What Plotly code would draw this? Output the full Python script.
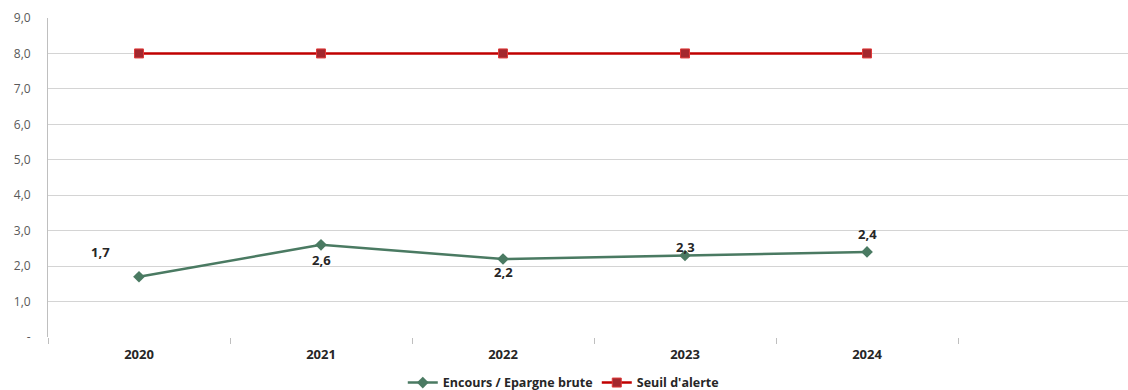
import plotly.graph_objects as go

# Data
years = ["2020", "2021", "2022", "2023", "2024"]
ratio = [1.7, 2.6, 2.2, 2.3, 2.4]
seuil = [8.0, 8.0, 8.0, 8.0, 8.0]
ratio_labels = ["1,7", "2,6", "2,2", "2,3", "2,4"]
y_ticks = [0, 1, 2, 3, 4, 5, 6, 7, 8, 9]
y_ticktext = ["-", "1,0", "2,0", "3,0", "4,0", "5,0", "6,0", "7,0", "8,0", "9,0"]

# label offsets (px) for each data label
label_dx = [-39, 0, 0, 0, 0]
label_dy = [-25, 15, 13, -8, -18]

xs = list(range(len(years)))
FONT = "Open Sans"
GREEN = "#4a7a62"
RED = "#c00000"

fig = go.Figure()
fig.add_trace(go.Scatter(
    x=xs, y=ratio, mode="lines+markers", name="Encours / Epargne brute",
    line=dict(color=GREEN, width=2.5),
    marker=dict(symbol="diamond", size=9, color=GREEN),
))
fig.add_trace(go.Scatter(
    x=xs, y=seuil, mode="lines+markers", name="Seuil d'alerte",
    line=dict(color=RED, width=2.5),
    marker=dict(symbol="square", size=9, color="#a3282e",
                line=dict(color="#e03a3a", width=1)),
))

for x, y, t, dx, dy in zip(xs, ratio, ratio_labels, label_dx, label_dy):
    fig.add_annotation(x=x, y=y, text=f"<b>{t}</b>", showarrow=False,
                       xshift=dx, yshift=-dy,
                       font=dict(family=FONT, size=13, color="#262626"))

fig.update_layout(
    width=1128, height=390,
    margin=dict(l=48, r=0, t=18, b=53, autoexpand=False),
    paper_bgcolor="white", plot_bgcolor="white",
    font=dict(family=FONT, size=12, color="#595959"),
    showlegend=True,
    legend=dict(orientation="h", x=0.3285, xanchor="left", y=-0.144,
                yanchor="middle", entrywidth=149, entrywidthmode="pixels",
                font=dict(family=FONT, size=12.5, color="#262626", weight="bold"),
                itemwidth=30, tracegroupgap=0),
    xaxis=dict(
        range=[-0.5, 5.434], tickvals=xs,
        ticktext=[f"<b>{y}</b>" for y in years],
        tickfont=dict(family=FONT, size=13, color="#262626"),
        showgrid=False, zeroline=False, showline=False, ticks="",
        ticklabelstandoff=8,
        minor=dict(tickvals=[-0.5, 0.5, 1.5, 2.5, 3.5, 4.5],
                   ticks="outside", ticklen=6, tickcolor="#bfbfbf",
                   tickwidth=1, showgrid=False),
        fixedrange=True,
    ),
    yaxis=dict(
        range=[0, 9], tickvals=y_ticks, ticktext=y_ticktext,
        tickfont=dict(family=FONT, size=12, color="#595959"),
        showgrid=True, gridcolor="#d4d4d4", gridwidth=1,
        zeroline=False, showline=True, linecolor="#bfbfbf", linewidth=1,
        ticks="", ticklabelstandoff=14,
    ),
)
fig.write_html("out.html")
